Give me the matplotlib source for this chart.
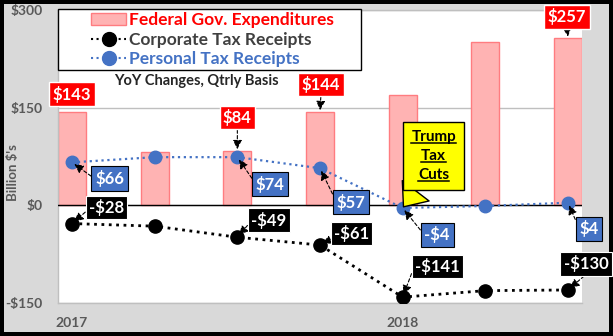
import matplotlib
matplotlib.use('Agg')
import matplotlib.pyplot as plt
from matplotlib.patches import Patch
from matplotlib.lines import Line2D
from matplotlib.legend_handler import HandlerLine2D, HandlerPatch
from matplotlib.transforms import IdentityTransform
from matplotlib.font_manager import FontProperties
from matplotlib.text import Text

plt.rcParams['font.family'] = ['Lato', 'DejaVu Sans']

# ---------------- data ----------------
quarters = ['2017 Q1', '2017 Q2', '2017 Q3', '2017 Q4', '2018 Q1', '2018 Q2', '2018 Q3']
federal = [143, 82, 84, 144, 170, 251, 257]
corporate = [-28, -32, -49, -61, -141, -131, -130]
personal = [66, 74, 74, 57, -4, -1, 4]
xtick_idx = [0, 4]
xtick_labels = ['2017', '2018']
yticks = [-150, 0, 150, 300]
ytick_labels = ['-$150', '$0', '$150', '$300']
series_names = ['Federal Gov. Expenditures', 'Corporate Tax Receipts', 'Personal Tax Receipts']
subtitle = 'YoY Changes, Qtrly Basis'
ylabel = "Billion $'s"
callout_text = ['Trump', 'Tax', 'Cuts']
callout_idx = 4

fed_labeled = [0, 2, 3, 6]
pers_labeled = [0, 2, 3, 4, 6]
corp_labeled = [0, 2, 3, 4, 6]

# ---------------- layout (pixel offsets, dy up) ----------------
fed_off = [(0, 18), (0, 33), (1, 27), (-1, 21)]
fed_arrow = [False, True, True, True]
pers_off = [(37.5, -16), (33, -27), (31, -34), (34.5, -27), (21, -26)]
pers_rel = [(0, 0.46), (0, 0.5), (0, 0.5), (0, 0.5), (0, 0.5)]
corp_off = [(34.5, 16), (31.5, 17), (31.5, 11.5), (35, 30.5), (18, 26)]
corp_rel = [(0, 0.42), (0, 0.45), (0, 0.25), (0, 0.67), (0.55, 0)]
callout_off = (31, 52)

PX = 0.72  # points per pixel at 100 dpi

RED = '#ff0000'
BLUE = '#4472c4'
PINK = '#ffb3b3'
PINK_EDGE = '#ff7c80'
GRAY_TXT = '#595959'
GRID = '#bfbfbf'

fig = plt.figure(figsize=(6.13, 3.36), dpi=100, facecolor='#d9d9d9')
fig.patch.set_edgecolor('black')
fig.patch.set_linewidth(4.5)

ax = fig.add_axes([58 / 613, 33 / 336, 524 / 613, 293 / 336])
ax.set_facecolor('white')

x = list(range(len(quarters)))
ax.bar(x, federal, width=0.34, color=PINK, edgecolor=PINK_EDGE, lw=1, zorder=2)
ax.axhline(0, color='black', lw=1, zorder=3)
ax.plot(x, corporate, ls=':', color='black', lw=2, marker='o', ms=9.5, zorder=4)
ax.plot(x, personal, ls=':', color=BLUE, lw=1.6, marker='o', ms=9, zorder=5)

ax.set_xlim(-0.17, len(quarters) - 1 + 0.17)
ax.set_ylim(-150, 300)
ax.set_yticks(yticks)
ax.set_yticklabels(ytick_labels)
ax.set_xticks(xtick_idx)
ax.set_xticklabels(xtick_labels)
ax.tick_params(axis='both', length=0, labelsize=10, labelcolor=GRAY_TXT)
ax.tick_params(axis='y', pad=11)
ax.tick_params(axis='x', pad=10)
for lab in ax.get_xticklabels() + ax.get_yticklabels():
    lab.set_fontweight('bold')
ax.yaxis.grid(True, color=GRID, lw=1, zorder=1)
ax.set_axisbelow(True)
for s in ['left', 'bottom', 'top']:
    ax.spines[s].set_color(GRID)
    ax.spines[s].set_linewidth(1)
ax.spines['right'].set_visible(False)

fig.text(13 / 613, 1 - 173 / 336, ylabel, rotation=90, ha='center', va='center',
         fontsize=9.5, fontweight='bold', color=GRAY_TXT)

ax.text((196 - 58) / 524, (303 - 81) / 293, subtitle, transform=ax.transAxes,
        ha='center', va='center', fontsize=10.5, fontweight='bold', color='#262626')

# legend
lfs = 12.5
lpx = lfs / PX
handles = [Patch(fc=PINK, ec=PINK_EDGE, lw=1),
           Line2D([], [], ls=':', color='black', lw=1.5, marker='o', ms=10),
           Line2D([], [], ls=':', color=BLUE, lw=1.5, marker='o', ms=10)]
leg = ax.legend(handles, series_names, loc='upper left',
                bbox_to_anchor=(0, 0, 303 / 524, 1 + 1 / 293), mode='expand',
                borderaxespad=0, prop={'weight': 'bold', 'size': lfs},
                labelcolor=[RED, '#404040', BLUE], frameon=True, fancybox=False,
                framealpha=1, edgecolor='black', handlelength=(127 - 62) / lpx,
                handletextpad=3 / lpx, borderpad=0.2, labelspacing=0.18,
                handler_map={Patch: HandlerPatch(xpad=30 / lpx),
                             Line2D: HandlerLine2D(xpad=30 / lpx, numpoints=1)})
leg.get_frame().set_linewidth(1)
leg.set_zorder(10)

arrow_base = dict(arrowstyle='-|>,head_length=0.45,head_width=0.22', color='black',
                  lw=0.8, ls=(0, (3, 2)), shrinkA=0)

for k, i in enumerate(fed_labeled):
    dx, dy = fed_off[k]
    ap = dict(arrow_base, relpos=(0.5, 0), shrinkB=1) if fed_arrow[k] else None
    ax.annotate('$%d' % federal[i], xy=(i, federal[i]), xytext=(dx * PX, dy * PX),
                textcoords='offset points', ha='center', va='center', color='white',
                fontsize=12, fontweight='bold', zorder=8, annotation_clip=False,
                bbox=dict(boxstyle='square,pad=0.2', fc=RED, ec='white', lw=1),
                arrowprops=ap)

for k, i in enumerate(pers_labeled):
    dx, dy = pers_off[k]
    v = personal[i]
    txt = ('-$%d' % abs(v)) if v < 0 else ('$%d' % v)
    ax.annotate(txt, xy=(i, v), xytext=(dx * PX, dy * PX),
                textcoords='offset points', ha='center', va='center', color='white',
                fontsize=12, fontweight='bold', zorder=8, annotation_clip=False,
                bbox=dict(boxstyle='square,pad=0.22', fc=BLUE, ec='black', lw=0.8),
                arrowprops=dict(arrow_base, relpos=pers_rel[k], shrinkB=2))

for k, i in enumerate(corp_labeled):
    dx, dy = corp_off[k]
    v = corporate[i]
    txt = ('-$%d' % abs(v)) if v < 0 else ('$%d' % v)
    ax.annotate(txt, xy=(i, v), xytext=(dx * PX, dy * PX),
                textcoords='offset points', ha='center', va='center', color='white',
                fontsize=12, fontweight='bold', zorder=8, annotation_clip=False,
                bbox=dict(boxstyle='square,pad=0.2', fc='black', ec='white', lw=0.8),
                arrowprops=dict(arrow_base, relpos=corp_rel[k], shrinkB=2))

# Trump Tax Cuts callout
cfs = 11
lsp = 1.45
callout = ax.annotate('\n'.join(callout_text), xy=(callout_idx, personal[callout_idx]),
                      xytext=(callout_off[0] * PX, callout_off[1] * PX),
                      textcoords='offset points', ha='center', va='center',
                      multialignment='center', linespacing=lsp,
                      color='black', fontsize=cfs, fontweight='bold', zorder=9,
                      bbox=dict(boxstyle='square,pad=0.55', fc='#ffff00', ec='black', lw=1),
                      arrowprops=dict(arrowstyle='wedge,tail_width=2.2,shrink_factor=0.5',
                                      fc='#ffff00', ec='black', lw=1,
                                      relpos=(0.25, 0), shrinkA=0, shrinkB=1))

# underline the callout words
fig.canvas.draw()
r = fig.canvas.get_renderer()
bb = Text.get_window_extent(callout, r)
prop = FontProperties(family=['Lato', 'DejaVu Sans'], weight='bold', size=cfs)
lp_w, lp_h, lp_d = r.get_text_width_height_descent('lp', prop, ismath=False)
asc = lp_h - lp_d
pitch = asc * lsp + lp_d
cx = (bb.x0 + bb.x1) / 2
for n, word in enumerate(callout_text):
    w, h, d = r.get_text_width_height_descent(word, prop, ismath=False)
    base = bb.y1 - asc - n * pitch
    yy = base - 2.0
    fig.add_artist(Line2D([cx - w / 2, cx + w / 2], [yy, yy], transform=IdentityTransform(),
                          color='black', lw=1.1, zorder=20))

fig.savefig('out.png', dpi=100, facecolor=fig.get_facecolor(), edgecolor=fig.get_edgecolor())
